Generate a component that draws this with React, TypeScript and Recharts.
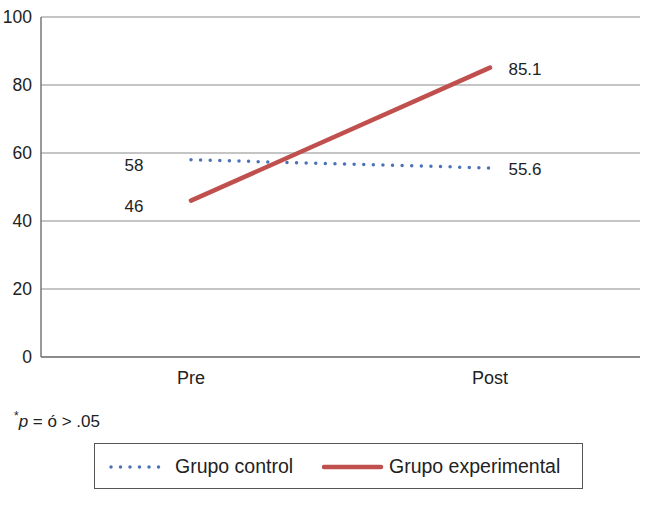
import React from "react";
import { LineChart, Line, XAxis, YAxis, CartesianGrid, Legend, LabelList } from "recharts";

const categories = ["Pre", "Post"];
const grupoControl = [58, 55.6];
const grupoExperimental = [46, 85.1];
const yTicks = [0, 20, 40, 60, 80, 100];

const data = categories.map((name, i) => ({
  name,
  control: grupoControl[i],
  experimental: grupoExperimental[i],
}));

const FONT = "'Liberation Sans', Arial, sans-serif";
const BLUE = "#4a72b4";
const RED = "#c0504d";

// etiqueta a la izquierda en "Pre" y a la derecha en "Post"
const PointLabel = (props: any) => {
  const { x, y, value, index } = props;
  const dx = index === 0 ? -57 : 35;
  return (
    <text
      x={x + dx}
      y={y + (index === 0 ? 5 : 1)}
      dy="0.355em"
      textAnchor="middle"
      fontSize={17}
      fontFamily={FONT}
      fill="#222"
    >
      {value}
    </text>
  );
};

const LegendBox = () => (
  <div
    style={{
      position: "absolute",
      left: 94,
      top: 443,
      width: 489,
      height: 46,
      border: "1px solid #555",
      boxSizing: "border-box",
      fontFamily: FONT,
      fontSize: 19.5,
      lineHeight: "22px",
      color: "#222",
    }}
  >
    <svg width={60} height={10} style={{ position: "absolute", left: 14, top: 18 }}>
      <line x1={2} y1={5} x2={58} y2={5} stroke={BLUE} strokeWidth={3.5} strokeDasharray="0 9.5" strokeLinecap="round" />
    </svg>
    <span style={{ position: "absolute", left: 80, top: 11 }}>Grupo control</span>
    <svg width={62} height={10} style={{ position: "absolute", left: 227, top: 18 }}>
      <line x1={2} y1={5} x2={59} y2={5} stroke={RED} strokeWidth={4.5} strokeLinecap="round" />
    </svg>
    <span style={{ position: "absolute", left: 294, top: 11 }}>Grupo experimental</span>
  </div>
);

export default function App() {
  return (
    <div style={{ position: "absolute", left: 0, top: 0, width: 650, height: 507, background: "#fff" }}>
      <LineChart width={650} height={507} data={data} margin={{ top: 17, right: 10, left: 0, bottom: 110 }}>
        <CartesianGrid horizontal vertical={false} stroke="#8c8c8c" strokeWidth={1.2} />
        <XAxis
          dataKey="name"
          height={40}
          padding={{ left: 150, right: 150 }}
          axisLine={{ stroke: "#777", strokeWidth: 1.5 }}
          tickLine={false}
          tickSize={6}
          tickMargin={8}
          tick={{ fontSize: 18, fill: "#222", fontFamily: FONT }}
        />
        <YAxis
          width={41}
          domain={[0, 100]}
          ticks={yTicks}
          interval={0}
          axisLine={{ stroke: "#777", strokeWidth: 1.5 }}
          tickLine={false}
          tickSize={6}
          tickMargin={3}
          tick={{ fontSize: 17.5, fill: "#222", fontFamily: FONT }}
        />
        <Legend content={() => <LegendBox />} wrapperStyle={{ position: "absolute", left: 0, top: 0, width: 650, height: 0 }} />
        <Line
          dataKey="control"
          name="Grupo control"
          stroke={BLUE}
          strokeWidth={3.5}
          strokeDasharray="0 9.6"
          strokeLinecap="round"
          dot={false}
          isAnimationActive={false}
        >
          <LabelList dataKey="control" content={PointLabel} />
        </Line>
        <Line
          dataKey="experimental"
          name="Grupo experimental"
          stroke={RED}
          strokeWidth={4.5}
          strokeLinecap="round"
          dot={false}
          isAnimationActive={false}
        >
          <LabelList dataKey="experimental" content={PointLabel} />
        </Line>
      </LineChart>
      <div
        style={{
          position: "absolute",
          left: 14,
          top: 409,
          fontFamily: FONT,
          fontSize: 17,
          color: "#222",
        }}
      >
        <sup style={{ fontSize: 12 }}>*</sup>
        <i>p</i> = ó &gt; .05
      </div>
    </div>
  );
}
